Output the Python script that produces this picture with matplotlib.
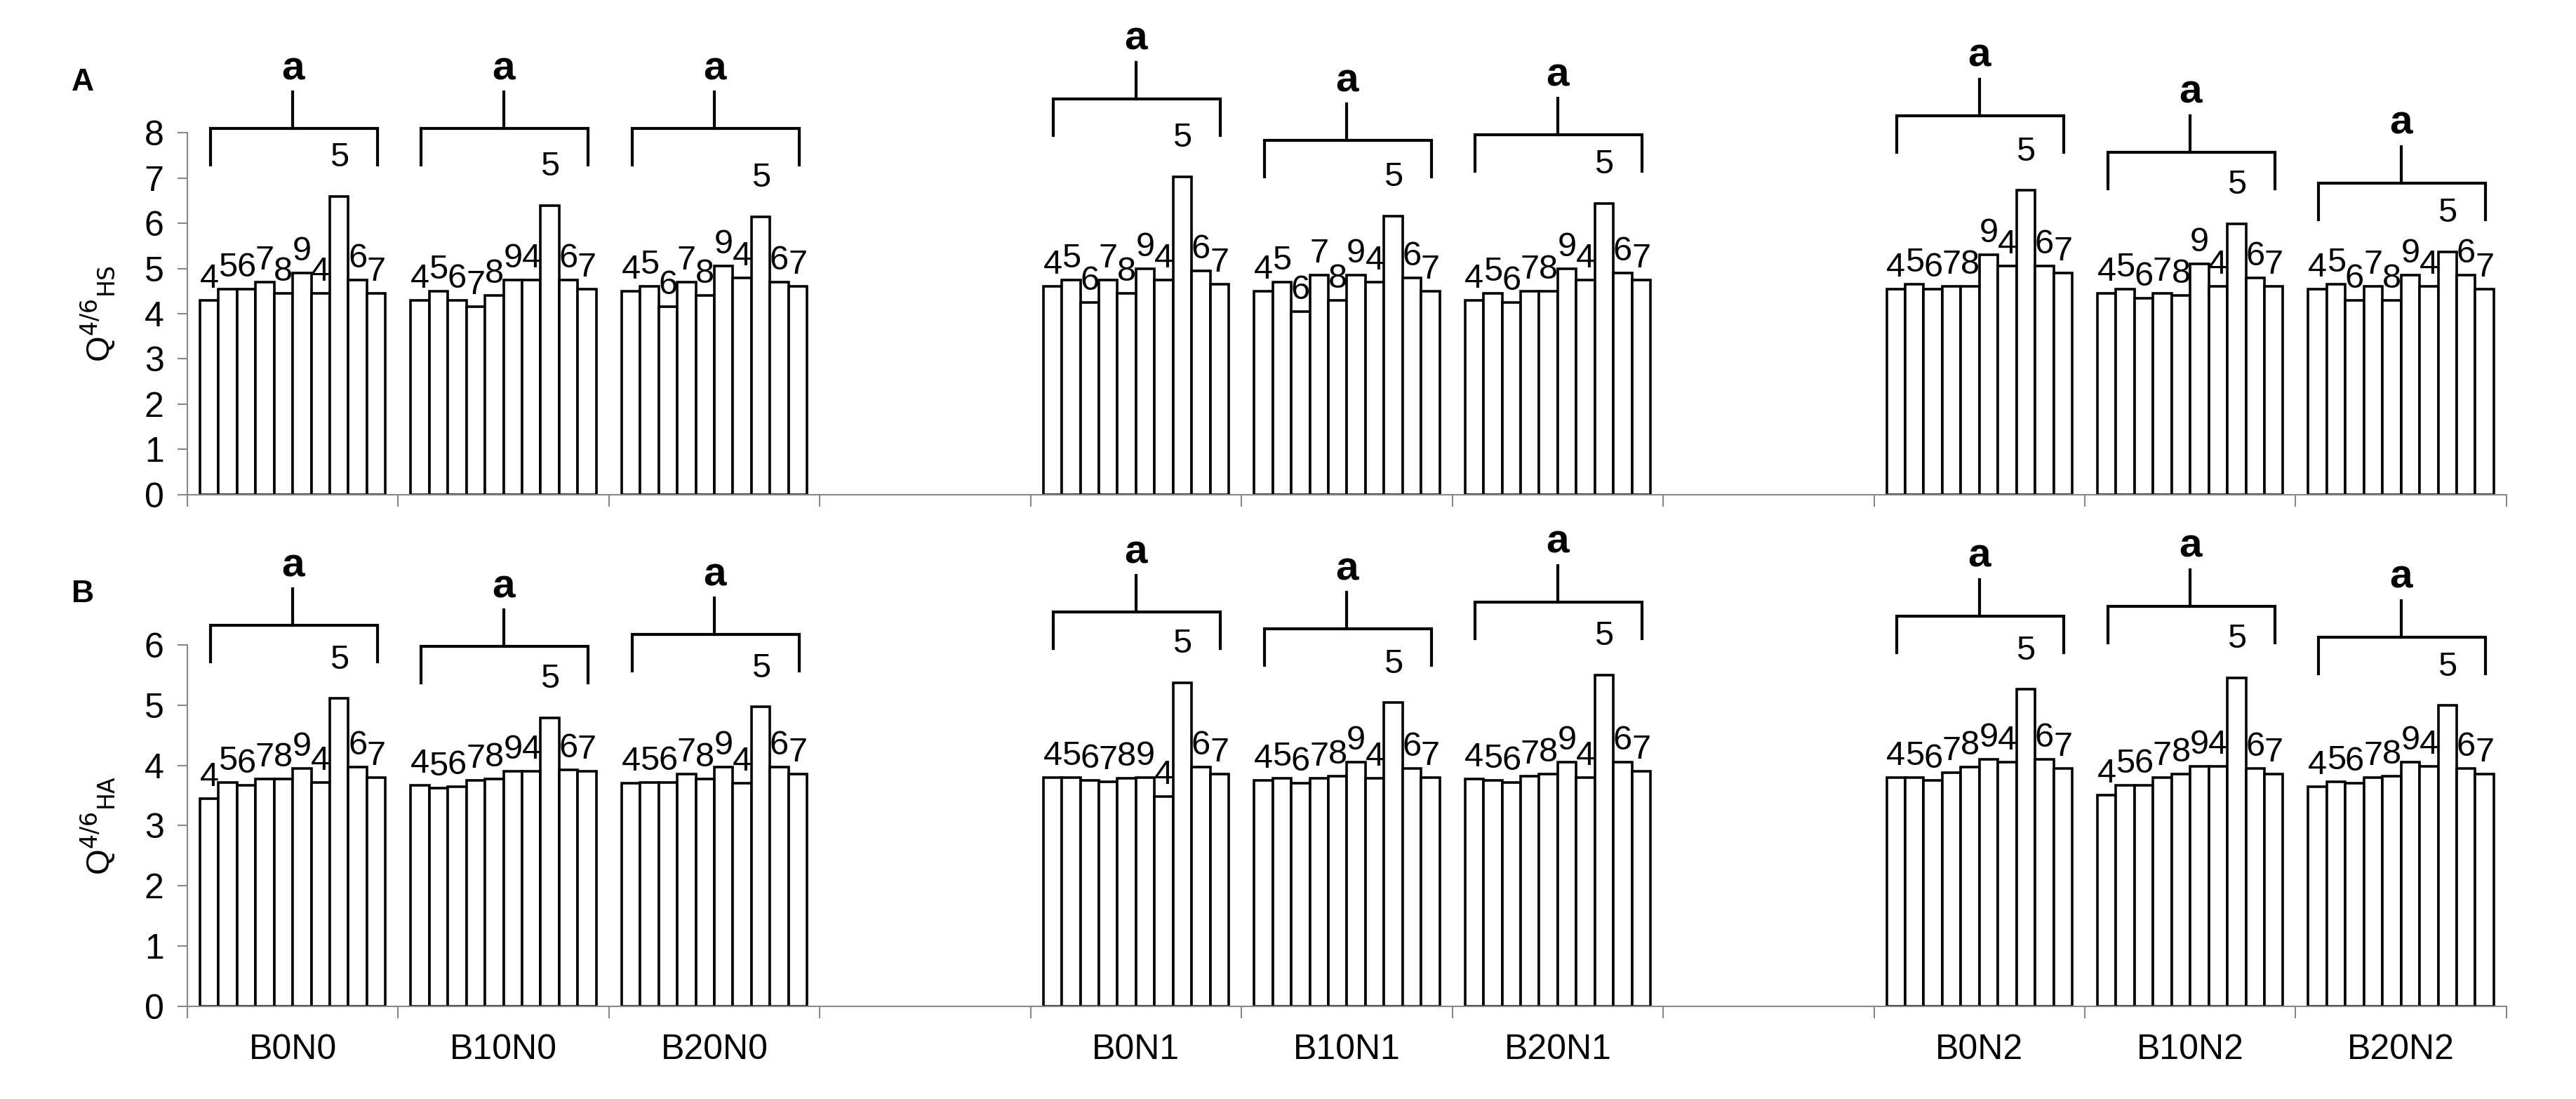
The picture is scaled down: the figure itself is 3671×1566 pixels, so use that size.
import matplotlib
matplotlib.use("Agg")
import matplotlib.pyplot as plt
import numpy as np

plt.rcParams['font.family'] = ['Liberation Sans', 'DejaVu Sans']

groups = ["B0N0", "B10N0", "B20N0", "B0N1", "B10N1", "B20N1", "B0N2", "B10N2", "B20N2"]
slots = [0, 1, 2, 4, 5, 6, 8, 9, 10]
bar_labels = ["4", "5", "6", "7", "8", "9", "4", "5", "6", "7"]

hs = [
    [4.3, 4.55, 4.55, 4.7, 4.45, 4.9, 4.45, 6.6, 4.75, 4.45],
    [4.3, 4.5, 4.3, 4.15, 4.4, 4.75, 4.75, 6.4, 4.75, 4.55],
    [4.5, 4.6, 4.15, 4.7, 4.4, 5.05, 4.8, 6.15, 4.7, 4.6],
    [4.6, 4.75, 4.25, 4.75, 4.45, 5.0, 4.75, 7.03, 4.95, 4.65],
    [4.5, 4.7, 4.05, 4.85, 4.3, 4.85, 4.7, 6.16, 4.8, 4.5],
    [4.3, 4.45, 4.25, 4.5, 4.5, 5.0, 4.75, 6.44, 4.9, 4.75],
    [4.55, 4.65, 4.55, 4.6, 4.6, 5.3, 5.05, 6.73, 5.05, 4.9],
    [4.45, 4.55, 4.35, 4.45, 4.4, 5.1, 4.6, 5.99, 4.8, 4.6],
    [4.55, 4.65, 4.3, 4.6, 4.3, 4.85, 4.6, 5.37, 4.85, 4.55],
]
ha_vals = [
    [3.45, 3.72, 3.67, 3.77, 3.77, 3.95, 3.72, 5.11, 3.97, 3.8],
    [3.67, 3.62, 3.65, 3.75, 3.77, 3.9, 3.9, 4.79, 3.92, 3.9],
    [3.7, 3.72, 3.72, 3.85, 3.77, 3.97, 3.7, 4.97, 3.97, 3.85],
    [3.8, 3.8, 3.75, 3.73, 3.78, 3.8, 3.48, 5.37, 3.97, 3.85],
    [3.75, 3.78, 3.7, 3.78, 3.82, 4.05, 3.78, 5.04, 3.95, 3.8],
    [3.77, 3.75, 3.72, 3.82, 3.85, 4.05, 3.8, 5.5, 4.05, 3.9],
    [3.8, 3.8, 3.75, 3.88, 3.97, 4.1, 4.05, 5.26, 4.1, 3.95],
    [3.5, 3.67, 3.67, 3.8, 3.85, 3.98, 3.98, 5.45, 3.95, 3.85],
    [3.65, 3.73, 3.7, 3.8, 3.82, 4.05, 3.98, 4.99, 3.95, 3.85],
]
bracket_A = [8.1, 8.1, 8.1, 8.76, 7.83, 7.96, 8.38, 7.58, 6.89]
bracket_B = [6.32, 5.97, 6.17, 6.54, 6.26, 6.71, 6.48, 6.64, 6.13]
sig_letters = ["a"] * 9

fig = plt.figure(figsize=(36.71, 15.66), dpi=100)
axA = fig.add_axes([0.0727, 0.550, 0.9003, 0.329])
axB = fig.add_axes([0.0727, 0.0843, 0.9003, 0.329])

bw = 0.088
offs = (np.arange(10) - 4.5) * bw
gray = "#888888"


def draw(ax, data, brackets, ymax, ylab, panel, unit_px):
    for g, s in enumerate(slots):
        xs = s + offs
        ax.bar(xs, data[g], width=bw, color="white", edgecolor="black",
               linewidth=2.6, zorder=2)
        for i, (x, v) in enumerate(zip(xs, data[g])):
            if i == 7:
                ax.text(x, v + 55 / unit_px, bar_labels[i], ha="center",
                        va="center", fontsize=35, clip_on=False)
            else:
                ax.text(x, v + 8 / unit_px, bar_labels[i], ha="center",
                        va="bottom", fontsize=35)
        yb = brackets[g]
        leg = 52 / unit_px
        up = 52 / unit_px
        x0, x1 = xs[0] + 0.005, xs[-1] + 0.005
        ax.plot([x0, x0, x1, x1], [yb - leg, yb, yb, yb - leg], color="black",
                lw=3, clip_on=False, solid_joinstyle="miter")
        ax.plot([s, s], [yb, yb + up], color="black", lw=3, clip_on=False)
        ax.text(s, yb + up + 6 / unit_px, sig_letters[g], ha="center", va="bottom",
                fontsize=42, fontweight="bold", clip_on=False)
    ax.set_xlim(-0.5, 10.5)
    ax.set_ylim(0, ymax)
    ax.set_yticks(range(0, ymax + 1))
    ax.tick_params(axis="y", labelsize=36, color=gray, length=10, width=1.5, pad=14)
    ax.set_xticks(np.arange(-0.5, 11, 1.0))
    ax.tick_params(axis="x", color=gray, length=12, width=1.5, labelbottom=False)
    for sp in ["top", "right"]:
        ax.spines[sp].set_visible(False)
    for sp in ["left", "bottom"]:
        ax.spines[sp].set_color(gray)
        ax.spines[sp].set_linewidth(1.5)
    ax.set_ylabel(ylab, fontsize=34, labelpad=28)
    ax.text(-0.05, 1.14, panel, transform=ax.transAxes, fontsize=32,
            fontweight="bold", ha="left", va="center")


draw(axA, hs, bracket_A, 8, r"Q$^{4/6}$$_{\mathrm{HS}}$", "A", 515 / 8)
draw(axB, ha_vals, bracket_B, 6, r"Q$^{4/6}$$_{\mathrm{HA}}$", "B", 515 / 6)
axB.set_xticks(slots, minor=True)
axB.set_xticklabels(groups, minor=True)
axB.tick_params(axis="x", which="minor", length=0, labelsize=36, pad=28)

fig.savefig("out.png", dpi=100)
